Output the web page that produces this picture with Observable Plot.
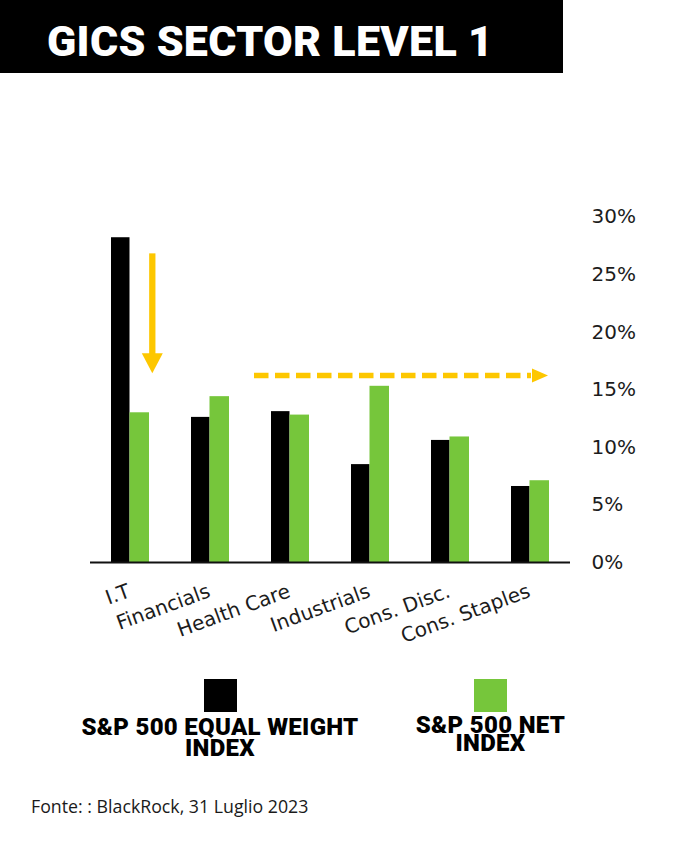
<!DOCTYPE html>
<html>
<head>
<meta charset="utf-8">
<script src="https://cdn.jsdelivr.net/npm/d3@7"></script>
<script src="https://cdn.jsdelivr.net/npm/@observablehq/plot@0.6"></script>
<style>
  html, body { margin: 0; padding: 0; background: #fff; }
  body { width: 700px; height: 850px; position: relative; overflow: hidden; }
  #title-box { position: absolute; left: 0; top: 0; width: 563px; height: 73px; background: #000; }
  #title { position: absolute; left: 47px; top: 20px; margin: 0; color: #fff;
           font-family: Roboto, sans-serif; font-weight: 900; font-size: 43px; line-height: 43px;
           letter-spacing: 0.3px; white-space: nowrap; }
  #chart { position: absolute; left: 0; top: 73px; }
  .swatch { position: absolute; top: 679px; width: 33px; height: 33px; }
  .legend-text { position: absolute; width: 400px; text-align: center; margin: 0;
                 font-family: Roboto, sans-serif; font-weight: 900; font-size: 24px; letter-spacing: 0.3px;
                 color: #000; white-space: nowrap; }
  #source { position: absolute; left: 31px; top: 798px; margin: 0; font-family: "Open Sans", sans-serif;
            font-size: 17.75px; line-height: 17.75px; color: #1a1a1a; white-space: nowrap; }
</style>
</head>
<body>
<div id="title-box"><h1 id="title"></h1></div>
<div id="chart"></div>
<div id="legend"></div>
<p id="source"></p>
<script>
// ---- data ----
const title = "GICS SECTOR LEVEL 1";
const categories = ["I.T", "Financials", "Health Care", "Industrials", "Cons. Disc.", "Cons. Staples"];
const equalWeight = [28.2, 12.6, 13.1, 8.5, 10.6, 6.6];
const netIndex = [13.0, 14.4, 12.8, 15.3, 10.9, 7.1];
const yTicks = [0, 5, 10, 15, 20, 25, 30];
const legendLines = [["S&P 500 EQUAL WEIGHT", "INDEX"], ["S&P 500 NET", "INDEX"]];
const source = "Fonte: : BlackRock, 31 Luglio 2023";
const downArrow = {category: "I.T", from: 26.8, to: 16.4};
const flatArrow = {from: "Health Care", to: "Cons. Staples", level: 16.2};

// ---- styles ----
const BLACK = "#000000";
const GREEN = "#76c63b";
const YELLOW = "#fdc700";
const seriesColors = [BLACK, GREEN];

document.getElementById("title").textContent = title;
document.getElementById("source").textContent = source;

const rows = categories.map((c, i) => ({category: c, ew: equalWeight[i], net: netIndex[i]}));

const chart = Plot.plot({
  width: 700,
  height: 590,
  marginTop: 143.5,
  marginBottom: 101,
  marginLeft: 90,
  marginRight: 130,
  style: {fontFamily: "'DejaVu Sans', sans-serif", fontSize: "20px", color: "#1c1c1c", background: "transparent", overflow: "visible"},
  x: {type: "band", domain: categories, padding: 0, axis: null},
  y: {domain: [0, 30], axis: null},
  marks: [
    Plot.barY(rows, {x: "category", y: "ew", fill: seriesColors[0], insetLeft: 21, insetRight: 40.5}),
    Plot.barY(rows, {x: "category", y: "net", fill: seriesColors[1], insetLeft: 39.5, insetRight: 21}),
    Plot.ruleY([0], {stroke: "#111", strokeWidth: 2}),
    Plot.axisY(yTicks, {anchor: "right", tickSize: 0, tickPadding: 21, tickFormat: d => d + "%", label: null}),
    Plot.text(categories, {x: d => d, frameAnchor: "bottom", dx: 1, dy: 34, rotate: -20, textAnchor: "end"})
  ]
});
document.getElementById("chart").appendChild(chart);

// ---- annotation arrows, positioned with the plot's own scales ----
const xs = chart.scale("x"), ys = chart.scale("y");
const cx = c => xs.apply(c) + xs.bandwidth / 2;
const g = d3.select(chart).append("g").attr("aria-label", "arrows");
{
  const x = cx(downArrow.category) + 22.3;
  const y1 = ys.apply(downArrow.from), tip = ys.apply(downArrow.to), head = 20;
  g.append("line").attr("x1", x).attr("x2", x).attr("y1", y1).attr("y2", tip - head + 1)
    .attr("stroke", YELLOW).attr("stroke-width", 6.3);
  g.append("path").attr("d", `M${x - 10.5},${tip - head}L${x + 10.5},${tip - head}L${x},${tip}Z`).attr("fill", YELLOW);
}
{
  const x1 = cx(flatArrow.from) - 36, tip = cx(flatArrow.to) + 18, y = ys.apply(flatArrow.level), head = 16;
  g.append("line").attr("x1", x1).attr("x2", tip - head - 1).attr("y1", y).attr("y2", y)
    .attr("stroke", YELLOW).attr("stroke-width", 5.5).attr("stroke-dasharray", "14.5 6.5");
  g.append("path").attr("d", `M${tip - head},${y - 7}L${tip},${y}L${tip - head},${y + 7}Z`).attr("fill", YELLOW);
}

// ---- legend ----
const legendCenters = [220, 490.5];
const legendTops = [717, 716.3];
const legendLineHeights = [21, 18];
const legend = document.getElementById("legend");
legendLines.forEach((lines, i) => {
  const sw = document.createElement("div");
  sw.className = "swatch";
  sw.style.left = (legendCenters[i] - 16.5) + "px";
  sw.style.background = seriesColors[i];
  legend.appendChild(sw);
  const t = document.createElement("p");
  t.className = "legend-text";
  t.style.left = (legendCenters[i] - 200) + "px";
  t.style.top = legendTops[i] + "px";
  t.style.lineHeight = legendLineHeights[i] + "px";
  t.innerHTML = lines.map(s => s.replace(/&/g, "&amp;")).join("<br>");
  legend.appendChild(t);
});
</script>
</body>
</html>
